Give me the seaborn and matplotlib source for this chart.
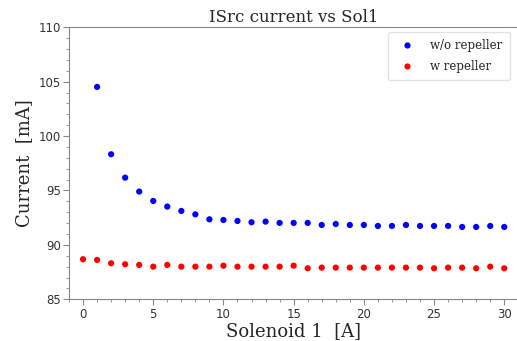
import numpy as np
import pandas as pd
import seaborn as sns
import matplotlib.pyplot as plt
from matplotlib.ticker import MultipleLocator

# solenoid current [A]
sol_without = list(range(1, 31))
cur_without = [104.52, 98.33, 96.18, 94.90, 94.04, 93.52, 93.12, 92.81, 92.35, 92.29,
               92.20, 92.08, 92.14, 92.02, 92.02, 92.02, 91.83, 91.92, 91.83, 91.83,
               91.74, 91.74, 91.83, 91.74, 91.74, 91.74, 91.65, 91.65, 91.74, 91.65]

sol_with = list(range(0, 31))
cur_with = [88.68, 88.62, 88.31, 88.22, 88.16, 88.00, 88.16, 88.00, 88.00, 88.00,
            88.09, 88.00, 88.00, 88.00, 88.00, 88.09, 87.85, 87.91, 87.91, 87.91,
            87.91, 87.91, 87.91, 87.91, 87.91, 87.85, 87.91, 87.91, 87.85, 88.00,
            87.85]

df = pd.concat([
    pd.DataFrame({"sol": sol_without, "cur": cur_without, "case": "w/o repeller"}),
    pd.DataFrame({"sol": sol_with, "cur": cur_with, "case": "w repeller"}),
])

sns.set_style("ticks")
plt.rcParams['font.family'] = ['DejaVu Serif']

fig = plt.figure(figsize=(5.17, 3.41), dpi=100)
ax = fig.add_axes([69 / 517, 0.1223, 449.3 / 517, 0.7977])

sns.scatterplot(data=df, x="sol", y="cur", hue="case",
                palette={"w/o repeller": "blue", "w repeller": "red"},
                s=20, linewidth=0, ax=ax)

ax.set_xlim(-1, 31)
ax.set_ylim(85, 110)
ax.set_xticks([0, 5, 10, 15, 20, 25, 30])
ax.set_yticks([85, 90, 95, 100, 105, 110])
ax.xaxis.set_minor_locator(MultipleLocator(1))
ax.yaxis.set_minor_locator(MultipleLocator(1))

for side in ["left", "bottom", "top"]:
    ax.spines[side].set_color("#888888")
ax.spines["right"].set_visible(False)
ax.tick_params(which="both", colors="#888888", labelcolor="#333333", pad=2)
ax.tick_params(which="major", length=4)
ax.tick_params(which="minor", length=2)
for lab in ax.get_xticklabels() + ax.get_yticklabels():
    lab.set_fontfamily("DejaVu Sans")
    lab.set_fontsize(8.5)

ax.set_title("ISrc current vs Sol1", fontsize=12, pad=4)
ax.set_xlabel("Solenoid 1  [A]", fontsize=13, labelpad=1)
ax.set_ylabel("Current  [mA]", fontsize=13, labelpad=4)

leg = ax.legend(loc="upper right", fontsize=8.5, frameon=True,
                bbox_to_anchor=(0.981, 0.983), borderaxespad=0,
                handletextpad=1.0, labelspacing=0.7, borderpad=0.6)
leg.get_frame().set_edgecolor("#dddddd")

fig.savefig("out.png", dpi=100)
